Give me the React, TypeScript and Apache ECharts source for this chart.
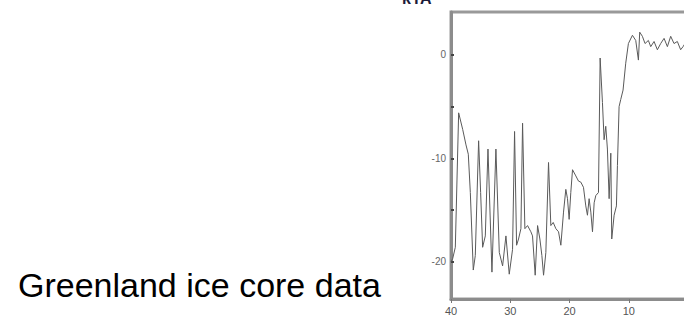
import React, { useEffect, useRef } from "react";
import * as echarts from "echarts";

// thousand years before present
const ageKyr = [
  40.0, 39.72, 39.27, 38.71, 38.03, 37.47, 37.08, 36.74, 36.24, 35.9, 35.34, 35.0, 34.66, 34.21,
  33.76, 33.09, 32.42, 31.85, 31.29, 30.73, 30.17, 29.61, 29.27, 28.93, 28.6, 28.2, 27.92, 27.53,
  27.08, 26.52, 26.24, 25.79, 25.39, 25.0, 24.66, 24.38, 23.99, 23.54, 23.15, 22.75, 22.3, 21.85,
  21.46, 21.01, 20.62, 20.34, 20.06, 19.78, 19.49, 18.93, 18.48, 18.09, 17.64, 17.25, 16.97, 16.69,
  16.4, 16.12, 15.84, 15.56, 15.11, 14.83, 14.44, 14.16, 13.88, 13.6, 13.31, 13.03, 12.87, 12.47,
  12.08, 11.91, 11.63, 11.35, 10.96, 10.51, 10.06, 9.38, 8.82, 8.37, 8.15, 7.7, 7.25, 6.69, 6.29,
  5.73, 5.17, 4.61, 4.04, 3.48, 2.92, 2.36, 1.8, 1.24, 0.84, 0.4, 0.0,
];
const tempAnomaly = [
  -20.0, -19.7, -18.6, -5.6, -7.2, -8.7, -9.6, -13.3, -20.8, -19.4, -8.3, -13.3, -18.6, -17.5,
  -9.1, -21.0, -9.1, -19.1, -20.4, -17.5, -21.2, -18.8, -7.4, -18.4, -17.8, -16.8, -6.6, -16.8,
  -16.5, -17.1, -17.5, -21.3, -16.5, -17.8, -19.4, -21.3, -19.1, -10.4, -16.5, -16.2, -16.8, -17.1,
  -18.4, -15.2, -13.0, -13.9, -15.9, -13.3, -11.1, -11.7, -12.2, -12.3, -12.8, -14.6, -15.5, -13.9,
  -15.2, -17.1, -14.3, -13.6, -13.3, -0.3, -4.6, -8.2, -6.9, -9.1, -13.9, -9.5, -17.8, -15.5,
  -14.6, -10.7, -5.0, -4.3, -3.4, -0.8, 1.1, 1.9, 1.4, -0.5, 2.2, 1.8, 1.1, 1.4, 0.8,
  1.3, 0.5, 1.1, 1.6, 0.8, 1.8, 1.1, 1.3, 0.5, 0.8, 1.2, 1.0,
];
const yTickValues = [-20, -15, -10, -5, 0];
const yLabelValues = [-20, -10, 0];
const xTickValues = [40, 30, 20, 10, 0];
const caption = "Greenland ice core data";
const unitLabel = "kYA";

export default function App() {
  const ref = useRef<HTMLDivElement>(null);
  useEffect(() => {
    if (!ref.current) return;
    const chart = echarts.init(ref.current, null, { renderer: "svg" });
    const data = ageKyr.map((a, i) => [a, tempAnomaly[i]]);
    chart.setOption({
      animation: false,
      backgroundColor: "#ffffff",
      grid: {
        left: 451,
        top: 12,
        width: 237,
        height: 287,
        show: true,
        borderColor: "#999999",
        borderWidth: 3,
        backgroundColor: "transparent",
      },
      xAxis: {
        type: "value",
        inverse: true,
        min: 0,
        max: 40,
        splitLine: { show: false },
        axisLine: { show: true, onZero: false, lineStyle: { color: "#8c8c8c", width: 3 } },
        axisTick: {
          show: true,
          customValues: xTickValues,
          length: 4,
          lineStyle: { color: "#777777", width: 1 },
        },
        axisLabel: {
          customValues: xTickValues,
          fontFamily: "Liberation Sans",
          fontSize: 11,
          color: "#555555",
          margin: 6,
        },
      },
      yAxis: {
        type: "value",
        min: -23.6,
        max: 4.15,
        splitLine: { show: false },
        axisLine: { show: true, onZero: false, lineStyle: { color: "#8c8c8c", width: 3 } },
        axisTick: {
          show: true,
          customValues: yTickValues,
          length: 3,
          inside: true,
          lineStyle: { color: "#444444", width: 2 },
        },
        axisLabel: {
          customValues: yLabelValues,
          fontFamily: "Liberation Sans",
          fontSize: 10,
          color: "#666666",
          margin: 5,
        },
      },
      series: [
        {
          type: "line",
          data,
          symbol: "none",
          lineStyle: { color: "#5a5a5a", width: 1 },
        },
      ],
      graphic: [
        {
          type: "text",
          left: 18,
          top: 268,
          style: {
            text: caption,
            fontFamily: "Liberation Sans",
            fontSize: 34,
            fill: "#000000",
          },
        },
        {
          type: "text",
          x: 402,
          y: 6,
          style: {
            text: unitLabel,
            fontFamily: "Liberation Sans",
            fontWeight: "bold",
            fontSize: 16,
            fill: "#1c1c3a",
            verticalAlign: "bottom",
          },
        },
      ],
    });
    return () => chart.dispose();
  }, []);
  return (
    <div
      ref={ref}
      style={{ position: "fixed", left: 0, top: 0, width: 720, height: 326 }}
    />
  );
}
